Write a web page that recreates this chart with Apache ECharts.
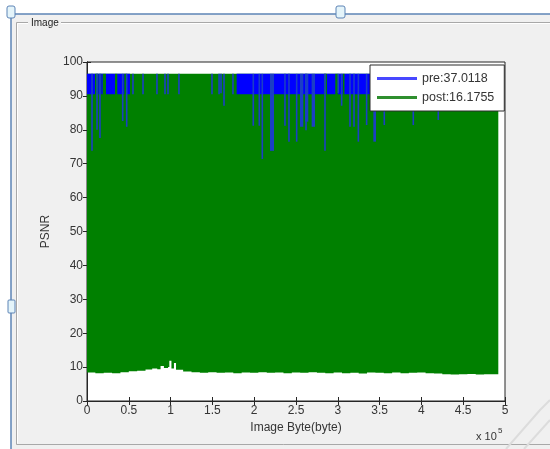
<!DOCTYPE html>
<html><head><meta charset="utf-8">
<script src="https://cdn.jsdelivr.net/npm/echarts@6/dist/echarts.min.js"></script>
<style>html,body{margin:0;padding:0;background:#fff}#c{width:550px;height:449px}</style>
</head><body><div id="c"></div>
<script>
// ---- tick labels ----
const xTickLabels = ['0','0.5','1','1.5','2','2.5','3','3.5','4','4.5','5'];
const yTickLabels = ['0','10','20','30','40','50','60','70','80','90','100'];
const seriesNames = ['pre:37.0118', 'post:16.1755'];

// ---- post (green) : lower envelope of the dense trace, top level ----
const postEnd = 492000;
const postTop = 96.5;
const postLowX = [0,10000,20000,30000,40000,50000,60000,70000,78000,84000,88000,92000,97000,98500,101000,104000,106500,115000,125000,135000,145000,155000,165000,175000,185000,195000,205000,215000,225000,235000,245000,255000,265000,275000,285000,295000,305000,315000,325000,335000,345000,355000,365000,375000,385000,395000,405000,415000,425000,435000,445000,455000,465000,475000,485000];
const postLow  = [8.4,8.2,8.3,8.2,8.5,8.8,8.9,9.3,9.6,9.4,10.3,9.7,10.0,11.9,9.6,11.2,9.2,8.7,8.5,8.3,8.5,8.3,8.4,8.2,8.4,8.3,8.5,8.3,8.4,8.2,8.4,8.3,8.5,8.3,8.2,8.4,8.2,8.3,8.1,8.4,8.3,8.2,8.4,8.2,8.3,8.4,8.2,8.1,7.9,7.8,7.9,8.0,7.8,7.9,7.9];
// places where post reaches its top inside the pre band
const postStrips = [[9600,13500],[16400,17100],[18800,22700],[33500,36200],[44600,47500],[283500,287000],[297000,300000],[306000,308000]];

// ---- pre (blue) ----
const preTop = 96.5;
const preBandLow = 90.5;
const preBands = [[0,51400],[179000,492000]];
// downward excursions: [start byte, end byte, minimum PSNR]
const preSpikes = [
  [6000,6000,73.8],[12000,12000,80.0],[15500,15500,77.6],[42700,42700,82.6],[47500,47500,80.9],
  [55000,55000,90.5],[67000,67000,90.5],[83700,83700,90.5],[93300,93300,90.5],[96900,96900,90.5],
  [110000,110000,90.5],[149500,149500,90.5],[158000,158000,90.5],[160300,160300,90.8],[163900,163900,87.1],
  [174600,174600,90.5],[198900,198900,81.2],[206100,206100,81.2],[209700,209700,71.4],
  [218900,223700,73.8],[236800,236800,81.2],[241600,241600,76.5],[250800,250800,76.5],
  [254800,258700,80.9],[260800,264700,82.4],[262000,262000,79.9],[268700,272700,80.9],
  [284700,284700,73.8],[300600,300600,90.8],[304600,304600,87.1],[314600,314600,80.9],
  [319400,319400,80.9],[324600,324600,76.5],[334500,334500,81.4],[342500,345700,76.5],
  [355600,355600,81.4],[390300,390300,81.4],[420200,420200,82.9]
];

const BLUE = '#0000ff', GREEN = '#008000', SPIKE = '#1b3fc4';
const FONT = "'Liberation Sans', Arial, sans-serif";
const TXT = '#353535';

const chart = echarts.init(document.getElementById('c'), null, {renderer:'canvas'});

function rectBetween(api, x0, x1, yTop, yBot, minW) {
  const p0 = api.coord([x0, yTop]);
  const p1 = api.coord([x1, yBot]);
  let w = p1[0] - p0[0];
  let x = p0[0];
  if (w < minW) { x = x - (minW - w) / 2; w = minW; }
  return {x: x, y: p0[1], width: w, height: p1[1] - p0[1]};
}

const postBaseData = postLowX.map((x, i) => [x, i + 1 < postLowX.length ? postLowX[i + 1] : postEnd, postLow[i], postTop]);
const postStripData = postStrips.map(s => [s[0], s[1], preBandLow - 0.3, postTop]);
const preBandData = preBands.map(b => [b[0], b[1], preBandLow, preTop]);
const preSpikeData = preSpikes.map(s => [s[0], s[1], s[2], preTop]);

// one filled step-polygon for the dense post trace (no seams between samples)
const postBaseSeries = {
  type: 'custom', name: seriesNames[1], data: postBaseData, clip: true,
  itemStyle: {color: GREEN},
  encode: {x: [0, 1], y: [2, 3]},
  renderItem: function (params, api) {
    if (params.dataIndex !== 0) return null;
    const pts = [];
    pts.push(api.coord([postBaseData[0][0], postTop]));
    pts.push(api.coord([postEnd, postTop]));
    for (let i = postBaseData.length - 1; i >= 0; i--) {
      const d = postBaseData[i];
      pts.push(api.coord([d[1], d[2]]));
      pts.push(api.coord([d[0], d[2]]));
    }
    return {type: 'polygon', shape: {points: pts}, style: {fill: GREEN, stroke: null}};
  }
};

function segSeries(name, data, color, minW) {
  return {
    type: 'custom', name: name, data: data, clip: true,
    itemStyle: {color: color},
    encode: {x: [0, 1], y: [2, 3]},
    renderItem: function (params, api) {
      const r = rectBetween(api, api.value(0), api.value(1), api.value(3), api.value(2), minW);
      return {type: 'rect', shape: r, style: {fill: color, stroke: null}};
    }
  };
}

const option = {
  backgroundColor: '#ffffff',
  animation: false,
  textStyle: {fontFamily: FONT},
  grid: {left: 87, top: 62, right: 45, bottom: 48, show: true, backgroundColor: '#ffffff', borderColor: '#262626', borderWidth: 1, containLabel: false},
  legend: {
    orient: 'vertical', left: 370, top: 65,
    padding: [7, 10, 7, 7], itemGap: 6,
    backgroundColor: '#ffffff', borderColor: '#2a2a2a', borderWidth: 1,
    itemWidth: 40, itemHeight: 3,
    textStyle: {fontFamily: FONT, fontSize: 12.5, color: TXT},
    data: [
      {name: seriesNames[0], icon: 'rect', itemStyle: {color: '#4848ff'}},
      {name: seriesNames[1], icon: 'rect', itemStyle: {color: '#2f8f2f'}}
    ]
  },
  xAxis: [{
    type: 'value', min: 0, max: 500000, interval: 50000, position: 'bottom',
    axisLine: {show: true, lineStyle: {color: '#262626'}},
    axisTick: {show: true, inside: true, length: 4, lineStyle: {color: '#262626'}},
    axisLabel: {color: TXT, fontSize: 12, fontFamily: FONT, margin: 4,
      formatter: v => xTickLabels[Math.round(v / 50000)]},
    splitLine: {show: false},
    name: 'Image Byte(byte)', nameLocation: 'middle', nameGap: 21,
    nameTextStyle: {color: TXT, fontSize: 12, fontFamily: FONT}
  }, {
    type: 'value', min: 0, max: 500000, interval: 50000, position: 'top',
    axisLine: {show: true, lineStyle: {color: '#262626'}},
    axisTick: {show: true, inside: true, length: 4, lineStyle: {color: '#262626'}},
    axisLabel: {show: false}, splitLine: {show: false}
  }],
  yAxis: [{
    type: 'value', min: 0, max: 100, interval: 10, position: 'left',
    axisLine: {show: true, lineStyle: {color: '#262626'}},
    axisTick: {show: true, inside: true, length: 4, lineStyle: {color: '#262626'}},
    axisLabel: {color: TXT, fontSize: 12, fontFamily: FONT, margin: 4,
      formatter: v => yTickLabels[Math.round(v / 10)]},
    splitLine: {show: false},
    name: 'PSNR', nameLocation: 'middle', nameGap: 31,
    nameTextStyle: {color: TXT, fontSize: 12, fontFamily: FONT}
  }, {
    type: 'value', min: 0, max: 100, interval: 10, position: 'right',
    axisLine: {show: true, lineStyle: {color: '#262626'}},
    axisTick: {show: true, inside: true, length: 4, lineStyle: {color: '#262626'}},
    axisLabel: {show: false}, splitLine: {show: false}
  }],
  series: [
    postBaseSeries,
    segSeries(seriesNames[0], preBandData, BLUE, 0),
    segSeries(seriesNames[1], postStripData, GREEN, 0),
    segSeries(seriesNames[0], preSpikeData, SPIKE, 1.6)
  ],
  graphic: [
    {type: 'rect', z: -10, silent: true, shape: {x: 11, y: 14, width: 539, height: 435}, style: {fill: '#f0f0f0'}},
    // group box
    {type: 'polyline', z: -9, silent: true, shape: {points: [[28, 22.5], [16.5, 22.5], [16.5, 444.5], [550, 444.5]]}, style: {stroke: '#a8a8a8', lineWidth: 1, fill: null}},
    {type: 'polyline', z: -9, silent: true, shape: {points: [[28, 23.5], [17.5, 23.5], [17.5, 443.5]]}, style: {stroke: '#ffffff', lineWidth: 1, fill: null}},
    {type: 'line', z: -9, silent: true, shape: {x1: 61, y1: 22.5, x2: 550, y2: 22.5}, style: {stroke: '#a8a8a8', lineWidth: 1}},
    {type: 'line', z: -9, silent: true, shape: {x1: 61, y1: 23.5, x2: 550, y2: 23.5}, style: {stroke: '#ffffff', lineWidth: 1}},
    {type: 'text', z: -9, silent: true, style: {x: 31, y: 23, text: 'Image', fontSize: 10, fontFamily: FONT, fill: '#222', verticalAlign: 'middle'}},
    // blue frame
    {type: 'line', z: -8, silent: true, shape: {x1: 11, y1: 14, x2: 550, y2: 14}, style: {stroke: '#5d84b6', lineWidth: 1.5}},
    {type: 'line', z: -8, silent: true, shape: {x1: 11, y1: 14, x2: 11, y2: 449}, style: {stroke: '#5d84b6', lineWidth: 1.5}},
    {type: 'rect', z: -7, silent: true, shape: {x: 7, y: 6, width: 8, height: 12, r: 2}, style: {fill: '#e4f4fa', stroke: '#5d84b6', lineWidth: 1}},
    {type: 'rect', z: -7, silent: true, shape: {x: 336, y: 6, width: 9, height: 12, r: 2}, style: {fill: '#e4f4fa', stroke: '#5d84b6', lineWidth: 1}},
    {type: 'rect', z: -7, silent: true, shape: {x: 8, y: 300, width: 7, height: 13, r: 1}, style: {fill: '#e4f4fa', stroke: '#5d84b6', lineWidth: 1}},
    // exponent note
    {type: 'text', silent: true, style: {x: 476, y: 437, text: 'x 10', fontSize: 11, fontFamily: FONT, fill: TXT, verticalAlign: 'middle'}},
    {type: 'text', silent: true, style: {x: 498, y: 431, text: '5', fontSize: 8, fontFamily: FONT, fill: TXT, verticalAlign: 'middle'}},
    // faint watermark strokes
    {type: 'polyline', z: -6, silent: true, shape: {points: [[506, 449], [540, 410], [550, 400]]}, style: {stroke: '#dcdcdc', lineWidth: 2, fill: null}},
    {type: 'polyline', z: -6, silent: true, shape: {points: [[524, 449], [550, 420]]}, style: {stroke: '#dcdcdc', lineWidth: 2, fill: null}}
  ]
};
chart.setOption(option);
</script>
</body></html>
